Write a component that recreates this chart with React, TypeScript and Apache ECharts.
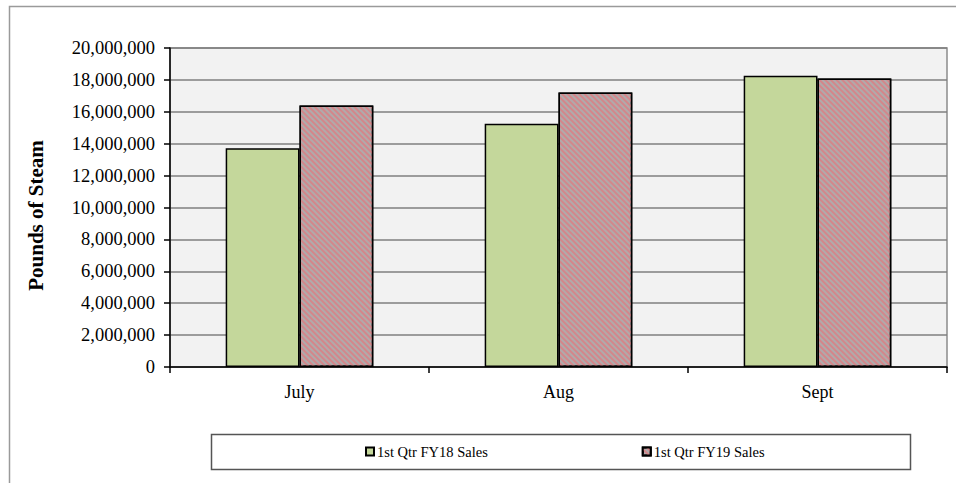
import React, { useEffect, useRef } from "react";
import * as echarts from "echarts";

// Monthly steam sales, first quarter of two fiscal years (pounds)
const months = ["July", "Aug", "Sept"];
const fy18Sales = [13720000, 15250000, 18260000];
const fy19Sales = [16390000, 17210000, 18090000];
const seriesNames = ["1st Qtr FY18 Sales", "1st Qtr FY19 Sales"];
const axisTitle = "Pounds of Steam";

const SERIF = "'Liberation Serif', 'Times New Roman', serif";

export default function App() {
  const ref = useRef<HTMLDivElement>(null);

  useEffect(() => {
    if (!ref.current) return;
    const chart = echarts.init(ref.current, null, { renderer: "svg" });
    chart.setOption({
      animation: false,
      backgroundColor: "#ffffff",
      textStyle: { fontFamily: SERIF, color: "#000" },
      graphic: [
        // outer chart frame (top and left edges visible)
        {
          type: "polyline",
          shape: { points: [[9.5, 490], [9.5, 6.5], [960, 6.5]] },
          style: { stroke: "#9a9a9a", lineWidth: 1.5, fill: "none" },
          silent: true,
        },
        // legend box
        {
          type: "rect",
          shape: { x: 211.5, y: 434.5, width: 699, height: 35 },
          style: { stroke: "#555555", lineWidth: 1.5, fill: "#ffffff" },
          z: 0,
          silent: true,
        },
      ],
      legend: {
        left: 365,
        top: 444,
        itemWidth: 8,
        itemHeight: 8,
        itemGap: 154,
        icon: "rect",
        padding: 0,
        z: 10,
        textStyle: { fontFamily: SERIF, fontSize: 14.5, color: "#000", padding: [0, 0, 0, -2] },
        data: seriesNames,
      },
      grid: {
        left: 170,
        top: 48,
        width: 777,
        height: 319,
        show: true,
        backgroundColor: "#f2f2f2",
        borderColor: "#8c8c8c",
        borderWidth: 1.5,
        containLabel: false,
      },
      xAxis: {
        type: "category",
        data: months,
        boundaryGap: true,
        axisLine: { lineStyle: { color: "#000", width: 1.5 } },
        axisTick: { show: true, length: 6, lineStyle: { color: "#000", width: 1.5 } },
        axisLabel: { fontFamily: SERIF, fontSize: 18, color: "#000", margin: 16 },
        splitLine: { show: false },
        z: 5,
      },
      yAxis: {
        type: "value",
        min: 0,
        max: 20000000,
        interval: 2000000,
        name: axisTitle,
        nameLocation: "middle",
        nameGap: 124,
        nameTextStyle: {
          fontFamily: SERIF,
          fontSize: 21,
          fontWeight: "bold",
          color: "#000",
          padding: [0, 16, 0, 0],
        },
        axisLine: { show: true, lineStyle: { color: "#000", width: 1.5 } },
        axisTick: { show: true, length: 6, lineStyle: { color: "#000", width: 1.5 } },
        axisLabel: {
          fontFamily: SERIF,
          fontSize: 18.5,
          color: "#000",
          margin: 15,
          formatter: (v: number) => v.toLocaleString("en-US"),
        },
        splitLine: { show: true, lineStyle: { color: "#7f7f7f", width: 1.5 } },
      },
      series: [
        {
          name: seriesNames[0],
          type: "bar",
          data: fy18Sales,
          barGap: "0%",
          barCategoryGap: "43%",
          itemStyle: { color: "#c4d79b", borderColor: "#000", borderWidth: 1.5 },
        },
        {
          name: seriesNames[1],
          type: "bar",
          data: fy19Sales,
          itemStyle: {
            color: "#b0aaab",
            borderColor: "#000",
            borderWidth: 1.5,
            decal: {
              symbol: "rect",
              symbolSize: 1,
              color: "#d4868a",
              dashArrayX: [1, 0],
              dashArrayY: [1.5, 1.5],
              rotation: Math.PI / 4,
            },
          },
        },
      ],
    });
    return () => chart.dispose();
  }, []);

  return (
    <div
      ref={ref}
      style={{ position: "fixed", left: 0, top: 0, width: 956, height: 483 }}
    />
  );
}
